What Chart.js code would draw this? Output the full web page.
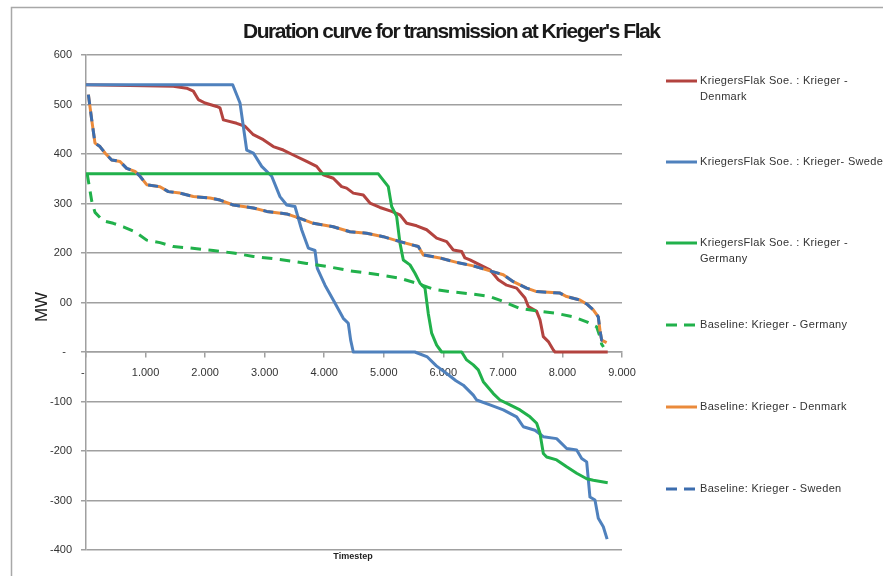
<!DOCTYPE html>
<html>
<head>
<meta charset="utf-8">
<script src="https://cdn.jsdelivr.net/npm/chart.js@4.4.1/dist/chart.umd.min.js"></script>
<style>
  html, body { margin: 0; padding: 0; background: #ffffff; }
  canvas { display: block; }
</style>
</head>
<body>
<canvas id="c" width="883" height="576"></canvas>
<script>
// ---------- data ----------
const chartTitle = "Duration curve for transmission at Krieger's Flak";
const yTitle = "MW";
const xTitle = "Timestep";

const seriesNames = [
  "KriegersFlak Soe. : Krieger - Denmark",
  "KriegersFlak Soe. : Krieger- Sweden",
  "KriegersFlak Soe. : Krieger - Germany",
  "Baseline: Krieger - Germany",
  "Baseline: Krieger - Denmark",
  "Baseline: Krieger - Sweden"
];

const xTickValues = [0, 1000, 2000, 3000, 4000, 5000, 6000, 7000, 8000, 9000];
const xTickLabels = ["-  ", "1.000", "2.000", "3.000", "4.000", "5.000", "6.000", "7.000", "8.000", "9.000"];
const yTickValues = [600, 500, 400, 300, 200, 100, 0, -100, -200, -300, -400];
const yTickLabels = ["600", "500", "400", "300", "200", "00", "-  ", "-100", "-200", "-300", "-400"];

// KriegersFlak Soe. : Krieger - Denmark
const soeDenmarkT = [0, 1466, 1690, 1802, 1886, 1998, 2194, 2250, 2306, 2530, 2670, 2810, 2977, 3145, 3313, 3481, 3705, 3873, 3985, 4152, 4292, 4376, 4488, 4656, 4768, 4936, 5132, 5272, 5384, 5552, 5720, 5888, 6056, 6167, 6308, 6363, 6447, 6615, 6783, 6923, 7063, 7231, 7371, 7427, 7567, 7623, 7679, 7763, 7847, 7875, 8760];
const soeDenmarkV = [540, 537, 533, 527, 510, 503, 496, 493, 469, 462, 456, 439, 429, 415, 408, 398, 385, 375, 358, 351, 334, 331, 321, 317, 301, 292, 284, 277, 260, 255, 247, 230, 223, 206, 203, 190, 186, 176, 166, 146, 135, 129, 109, 92, 82, 65, 31, 21, 4, 0, 0];

// KriegersFlak Soe. : Krieger - Sweden
const soeSwedenT = [0, 2463, 2586, 2698, 2810, 2950, 3118, 3257, 3370, 3509, 3621, 3733, 3845, 3884, 4013, 4152, 4320, 4404, 4444, 4488, 5521, 5732, 5883, 6095, 6212, 6335, 6503, 6559, 6783, 7007, 7231, 7343, 7539, 7679, 7903, 8071, 8239, 8323, 8407, 8462, 8546, 8602, 8686, 8750];
const soeSwedenV = [540, 540, 503, 408, 402, 375, 355, 314, 297, 294, 247, 210, 205, 169, 135, 105, 68, 58, 24, 0, 0, -10, -28, -47, -58, -67, -87, -97, -107, -117, -131, -151, -158, -171, -175, -195, -198, -215, -222, -293, -299, -336, -353, -378];

// KriegersFlak Soe. : Krieger - Germany
const soeGermanyT = [0, 4908, 5076, 5132, 5216, 5272, 5328, 5440, 5524, 5608, 5692, 5747, 5804, 5888, 5972, 6308, 6391, 6503, 6587, 6671, 6839, 6951, 7119, 7287, 7455, 7567, 7623, 7679, 7735, 7903, 8071, 8239, 8407, 8518, 8760];
const soeGermanyV = [360, 360, 334, 294, 274, 220, 186, 176, 159, 139, 129, 78, 38, 14, 0, 0, -16, -26, -36, -60, -84, -97, -107, -117, -131, -144, -164, -205, -212, -218, -232, -245, -256, -259, -264];

// Baseline: Krieger - Germany
const baseGermanyT = [20, 96, 151, 290, 458, 626, 823, 1019, 1242, 1466, 1746, 2137, 2474, 2810, 3257, 3705, 4041, 4432, 4936, 5272, 5552, 5832, 6111, 6503, 6783, 7007, 7287, 7623, 7903, 8182, 8407, 8574, 8630, 8658, 8690];
const baseGermanyV = [360, 305, 282, 265, 260, 253, 243, 226, 221, 213, 210, 205, 200, 193, 187, 179, 173, 164, 156, 149, 139, 127, 122, 117, 112, 102, 88, 82, 78, 71, 61, 51, 31, 16, 10];

// Baseline: Krieger - Denmark
const baseDenmarkT = [40, 96, 151, 235, 319, 431, 571, 683, 823, 907, 1019, 1242, 1382, 1578, 1802, 2082, 2250, 2474, 2810, 3034, 3370, 3593, 3817, 4152, 4432, 4712, 4992, 5272, 5580, 5664, 5944, 6224, 6503, 6783, 7007, 7175, 7399, 7567, 7959, 8071, 8294, 8407, 8518, 8602, 8630, 8658, 8742];
const baseDenmarkV = [520, 469, 422, 415, 402, 388, 385, 371, 365, 355, 338, 334, 324, 321, 314, 311, 307, 297, 291, 284, 279, 270, 260, 253, 243, 240, 233, 223, 213, 196, 190, 181, 174, 164, 156, 142, 129, 122, 119, 112, 105, 97, 85, 71, 44, 24, 19];

// Baseline: Krieger - Sweden (coincides with Baseline Denmark in the picture)
const baseSwedenT = [40, 96, 151, 235, 319, 431, 571, 683, 823, 907, 1019, 1242, 1382, 1578, 1802, 2082, 2250, 2474, 2810, 3034, 3370, 3593, 3817, 4152, 4432, 4712, 4992, 5272, 5580, 5664, 5944, 6224, 6503, 6783, 7007, 7175, 7399, 7567, 7959, 8071, 8294, 8407, 8518, 8602, 8630, 8658, 8742];
const baseSwedenV = [520, 469, 422, 415, 402, 388, 385, 371, 365, 355, 338, 334, 324, 321, 314, 311, 307, 297, 291, 284, 279, 270, 260, 253, 243, 240, 233, 223, 213, 196, 190, 181, 174, 164, 156, 142, 129, 122, 119, 112, 105, 97, 85, 71, 44, 24, 19];

// ---------- styles ----------
const COLORS = ['#B3433F', '#4F81BD', '#21B14B', '#21B14B', '#EA8A3B', '#3C6DAE'];
const DASHES = [[], [], [], [10.5, 7.5], [], [10, 7]];
const GRID = '#a0a0a0';
const TXT = '#333333';
const FONT = '"Liberation Sans", Arial, sans-serif';

function pts(ts, vs) { return ts.map((t, i) => ({ x: t, y: vs[i] })); }

const seriesData = [
  pts(soeDenmarkT, soeDenmarkV),
  pts(soeSwedenT, soeSwedenV),
  pts(soeGermanyT, soeGermanyV),
  pts(baseGermanyT, baseGermanyV),
  pts(baseDenmarkT, baseDenmarkV),
  pts(baseSwedenT, baseSwedenV)
];

const datasets = seriesData.map((d, i) => ({
  label: seriesNames[i],
  data: d,
  borderColor: COLORS[i],
  backgroundColor: COLORS[i],
  borderWidth: 3,
  borderDash: DASHES[i],
  borderCapStyle: 'butt',
  borderJoinStyle: 'round',
  pointRadius: 0,
  tension: 0,
  fill: false,
  order: 6 - i
}));

// legend layout (text lines for each entry)
const legendLines = [
  ["KriegersFlak Soe. : Krieger -", "Denmark"],
  ["KriegersFlak Soe. : Krieger- Sweden"],
  ["KriegersFlak Soe. : Krieger -", "Germany"],
  ["Baseline: Krieger - Germany"],
  ["Baseline: Krieger - Denmark"],
  ["Baseline: Krieger - Sweden"]
];
const legendY = [81, 162, 243, 325, 407, 489];

function fitSpacing(ctx, text, target) {
  ctx.letterSpacing = '0px';
  const w = ctx.measureText(text).width;
  return (target - w) / (text.length - 1);
}

const decor = {
  id: 'decor',
  beforeDraw(chart) {
    const ctx = chart.ctx;
    ctx.save();
    ctx.fillStyle = '#ffffff';
    ctx.fillRect(0, 0, chart.width, chart.height);
    ctx.restore();
  },
  afterDraw(chart) {
    const ctx = chart.ctx;
    ctx.save();
    // outer frame
    ctx.strokeStyle = '#a8a8a8';
    ctx.lineWidth = 1.5;
    ctx.beginPath();
    ctx.moveTo(11.5, 600);
    ctx.lineTo(11.5, 7.5);
    ctx.lineTo(900, 7.5);
    ctx.stroke();

    // title
    ctx.fillStyle = '#1a1a1a';
    ctx.font = 'bold 21px ' + FONT;
    ctx.textBaseline = 'alphabetic';
    ctx.textAlign = 'left';
    let sp = fitSpacing(ctx, chartTitle, 418);
    ctx.letterSpacing = sp + 'px';
    ctx.fillText(chartTitle, 243, 37.5);

    // y title
    ctx.letterSpacing = '0px';
    ctx.font = '17px ' + FONT;
    ctx.fillStyle = '#222';
    ctx.save();
    ctx.translate(47, 307);
    ctx.rotate(-Math.PI / 2);
    ctx.textAlign = 'center';
    ctx.fillText(yTitle, 0, 0);
    ctx.restore();

    // x title
    ctx.font = 'bold 9px ' + FONT;
    ctx.textAlign = 'center';
    ctx.textBaseline = 'middle';
    ctx.fillText(xTitle, 353, 557);

    // legend
    ctx.font = '11px ' + FONT;
    ctx.textAlign = 'left';
    ctx.textBaseline = 'middle';
    sp = fitSpacing(ctx, "Baseline: Krieger - Germany", 147);
    legendLines.forEach((lines, i) => {
      const y = legendY[i];
      ctx.strokeStyle = COLORS[i];
      ctx.lineWidth = 3;
      ctx.lineCap = 'butt';
      ctx.setLineDash(DASHES[i].length ? [11, 7] : []);
      ctx.beginPath();
      ctx.moveTo(666, y);
      ctx.lineTo(697, y);
      ctx.stroke();
      ctx.setLineDash([]);
      ctx.fillStyle = TXT;
      ctx.letterSpacing = sp + 'px';
      lines.forEach((t, k) => ctx.fillText(t, 700, y + k * 16));
    });
    ctx.restore();
  }
};

new Chart(document.getElementById('c'), {
  type: 'line',
  data: { datasets },
  options: {
    responsive: false,
    animation: false,
    events: [],
    layout: { padding: { top: 55, bottom: 26, left: 0, right: 261 } },
    plugins: {
      legend: { display: false },
      title: { display: false },
      tooltip: { enabled: false }
    },
    scales: {
      x: {
        type: 'linear',
        min: 0,
        max: 9000,
        position: { y: 0 },
        afterBuildTicks: s => { s.ticks = xTickValues.map(v => ({ value: v })); },
        ticks: {
          autoSkip: false,
          maxRotation: 0,
          padding: 9,
          color: TXT,
          font: { family: FONT, size: 11 },
          callback: (v) => { const i = xTickValues.indexOf(v); return i >= 0 ? xTickLabels[i] : ''; }
        },
        grid: { drawOnChartArea: false, drawTicks: true, tickLength: 5, color: GRID, lineWidth: 1.5 },
        border: { display: true, color: GRID, width: 1.5 },
        afterFit: s => { s.height = 0; }
      },
      y: {
        type: 'linear',
        min: -400,
        max: 600,
        afterBuildTicks: s => { s.ticks = yTickValues.map(v => ({ value: v })); },
        ticks: {
          autoSkip: false,
          padding: 9,
          color: TXT,
          font: { family: FONT, size: 11 },
          callback: (v) => { const i = yTickValues.indexOf(v); return i >= 0 ? yTickLabels[i] : ''; }
        },
        grid: { color: GRID, lineWidth: 1.5, tickLength: 5, drawTicks: true },
        border: { display: true, color: GRID, width: 1.5 },
        afterFit: s => { s.width = 86; }
      }
    }
  },
  plugins: [decor]
});
</script>
</body>
</html>
